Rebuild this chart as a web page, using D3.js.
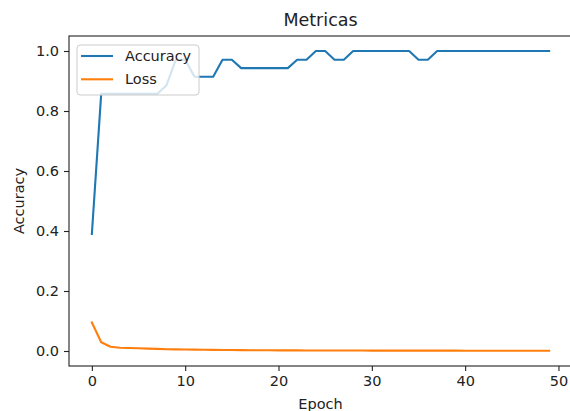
<!DOCTYPE html>
<html>
<head>
<meta charset="utf-8">
<script src="https://cdn.jsdelivr.net/npm/d3@7"></script>
<style>
  body { margin: 0; background: #fff; }
  svg { display: block; font-family: "DejaVu Sans", sans-serif; }
</style>
</head>
<body>
<div id="plot"></div>
<script>
// data
const epochs = d3.range(50);
const accuracy = [
  0.39, 0.857, 0.857, 0.857, 0.857, 0.857, 0.857, 0.857, 0.886, 0.971,
  0.971, 0.914, 0.914, 0.914, 0.971, 0.971, 0.943, 0.943, 0.943, 0.943,
  0.943, 0.943, 0.971, 0.971, 1.0, 1.0, 0.971, 0.971, 1.0, 1.0,
  1.0, 1.0, 1.0, 1.0, 1.0, 0.971, 0.971, 1.0, 1.0, 1.0,
  1.0, 1.0, 1.0, 1.0, 1.0, 1.0, 1.0, 1.0, 1.0, 1.0
];
const loss = [
  0.095, 0.029, 0.014, 0.011, 0.010, 0.009, 0.008, 0.007, 0.006, 0.0055,
  0.005, 0.0045, 0.004, 0.0037, 0.0034, 0.0031, 0.0029, 0.0027, 0.0025, 0.0024,
  0.0022, 0.0021, 0.002, 0.0019, 0.0018, 0.0017, 0.0016, 0.0016, 0.0015, 0.0015,
  0.0014, 0.0014, 0.0013, 0.0013, 0.0012, 0.0012, 0.0012, 0.0011, 0.0011, 0.0011,
  0.001, 0.001, 0.001, 0.001, 0.0009, 0.0009, 0.0009, 0.0009, 0.0008, 0.0008
];
const xTicks = [0, 10, 20, 30, 40, 50];
const yTicks = [0.0, 0.2, 0.4, 0.6, 0.8, 1.0];
const seriesNames = ["Accuracy", "Loss"];
const colors = ["#1f77b4", "#ff7f0e"];

const W = 570, H = 411;
const margin = { left: 69, right: 572, top: 36, bottom: 366 };

const x = d3.scaleLinear().domain([-2.45, 51.45]).range([margin.left, margin.right]);
const y = d3.scaleLinear().domain([-0.05, 1.05]).range([margin.bottom, margin.top]);

const svg = d3.select("#plot").append("svg")
    .attr("width", W)
    .attr("height", H);

// lines
const line = d3.line()
    .x((d, i) => x(epochs[i]))
    .y(d => y(d));

[accuracy, loss].forEach((s, k) => {
  svg.append("path")
    .datum(s)
    .attr("fill", "none")
    .attr("stroke", colors[k])
    .attr("stroke-width", 2.1)
    .attr("stroke-linejoin", "round")
    .attr("stroke-linecap", "square")
    .attr("d", line);
});

// axes
const xAxis = svg.append("g")
  .attr("transform", `translate(0,${margin.bottom})`)
  .call(d3.axisBottom(x).tickValues(xTicks).tickSize(5).tickPadding(5).tickFormat(d3.format("d")));
const yAxis = svg.append("g")
  .attr("transform", `translate(${margin.left},0)`)
  .call(d3.axisLeft(y).tickValues(yTicks).tickSize(5).tickPadding(5).tickFormat(d3.format(".1f")));

[xAxis, yAxis].forEach(g => {
  g.select(".domain").remove();
  g.selectAll("line").attr("stroke", "#222").attr("stroke-width", 1.1);
  g.selectAll("text").attr("font-size", 14.5).attr("fill", "#222")
    .attr("font-family", "DejaVu Sans");
});

// frame
svg.append("rect")
  .attr("x", margin.left).attr("y", margin.top)
  .attr("width", margin.right - margin.left).attr("height", margin.bottom - margin.top)
  .attr("fill", "none")
  .attr("stroke", "#222")
  .attr("stroke-width", 1.1);

// title and labels
svg.append("text")
  .attr("x", (margin.left + margin.right) / 2).attr("y", 26)
  .attr("text-anchor", "middle")
  .attr("font-size", 17.5)
  .attr("fill", "#222")
  .text("Metricas");

svg.append("text")
  .attr("x", (margin.left + margin.right) / 2).attr("y", 409)
  .attr("text-anchor", "middle")
  .attr("font-size", 14.5)
  .attr("fill", "#222")
  .text("Epoch");

svg.append("text")
  .attr("transform", `translate(24,${(margin.top + margin.bottom) / 2}) rotate(-90)`)
  .attr("text-anchor", "middle")
  .attr("font-size", 14.5)
  .attr("fill", "#222")
  .text("Accuracy");

// legend
const lg = svg.append("g").attr("transform", "translate(77,45)");
lg.append("rect")
  .attr("width", 122).attr("height", 50)
  .attr("rx", 3)
  .attr("fill", "#fff").attr("fill-opacity", 0.8)
  .attr("stroke", "#ccc").attr("stroke-width", 1);

seriesNames.forEach((name, k) => {
  const yy = 11 + k * 23.3;
  lg.append("line")
    .attr("x1", 4).attr("x2", 36)
    .attr("y1", yy).attr("y2", yy)
    .attr("stroke", colors[k]).attr("stroke-width", 2.1);
  lg.append("text")
    .attr("x", 48).attr("y", yy + 5)
    .attr("font-size", 14.5)
    .attr("fill", "#222")
    .text(name);
});
</script>
</body>
</html>
